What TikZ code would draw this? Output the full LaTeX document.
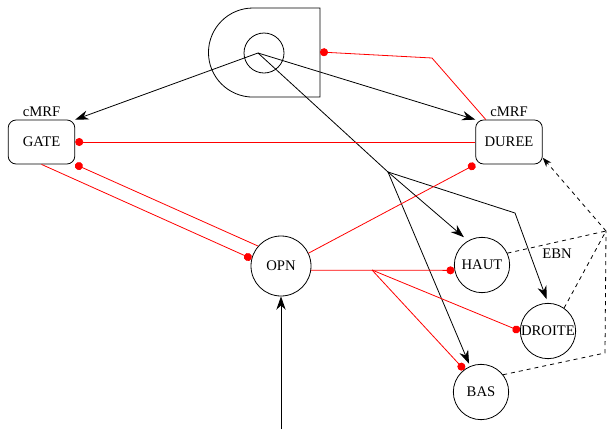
\documentclass[tikz,border=0pt]{standalone}
\usepackage{fontspec}
\setmainfont{Liberation Serif}
\usetikzlibrary{arrows.meta}

\begin{document}
\begin{tikzpicture}[x=0.75pt,y=-0.75pt,line width=0.6pt,
    every node/.style={font=\fontsize{11pt}{13pt}\selectfont},
    module/.style={draw,rounded corners=6pt,minimum width=50pt,minimum height=33pt,
      label={[inner sep=2pt]above:cMRF}},
    zone/.style={draw,circle,inner sep=0pt,minimum size=41.5pt},
    inh/.style={red,-{Circle[length=6pt]}},
    exc/.style={-{Stealth[length=10pt,width=7pt]}}]
  \useasboundingbox (0,0) rectangle (607,429);
  \draw (320,8) -- (253,8) arc[start angle=90,end angle=270,radius=33.4pt] -- (320,97) -- cycle;
  \draw (264,53) circle[radius=15pt];
  \coordinate (S) at (258,53);
  \coordinate (Q) at (320,52);
  \node[module] (GATE) at (41.5,142) {GATE};
  \node[module] (DUREE) at (509,142) {DUREE};
  \node[zone,minimum size=45pt] (OPN) at (281,266) {OPN};
  \node[zone] (HAUT) at (482,265) {HAUT};
  \node[zone] (DROITE) at (548,331) {DROITE};
  \node[zone] (BAS) at (481,392) {BAS};
  \coordinate (J) at (388,172);
  \coordinate (K) at (372,270);
  \coordinate (E) at (606,231);
  \coordinate (IN) at (281,429);
  \draw[exc] (S) -- (GATE.north east);
  \draw[exc] (S) -- (DUREE.north west);
  \draw[exc,shorten >=4pt] (S) -- (J) -- (HAUT.120);
  \draw[exc,shorten >=3pt] (J) -- (515,213) -- (DROITE.north);
  \draw[exc,shorten >=2pt] (J) -- (BAS);
  \draw[exc] (IN) -- (OPN.south);
  \draw[inh] (DUREE.136) -- (432,58) -- (Q);
  \draw[inh] (DUREE.west) -- (GATE.east);
  \draw[inh] (GATE.south) -- (OPN.166);
  \draw[inh] (OPN.139) -- (GATE.south east);
  \draw[inh] (OPN.25) -- (DUREE.south west);
  \draw[inh] (OPN.-8) -- (HAUT.191);
  \draw[inh] (K) -- (DROITE.west);
  \draw[inh] (K) -- (BAS.127);
  \draw[dashed] (HAUT.25) -- (E);
  \draw[dashed] (DROITE.55) -- (E);
  \draw[dashed] (BAS.38) -- (605,353) -- (E);
  \draw[dashed,-{Stealth[length=7pt,width=5pt]}] (E) -- (DUREE.-25);
  \node (EBN) at (557,254) {EBN};
\end{tikzpicture}
\end{document}
